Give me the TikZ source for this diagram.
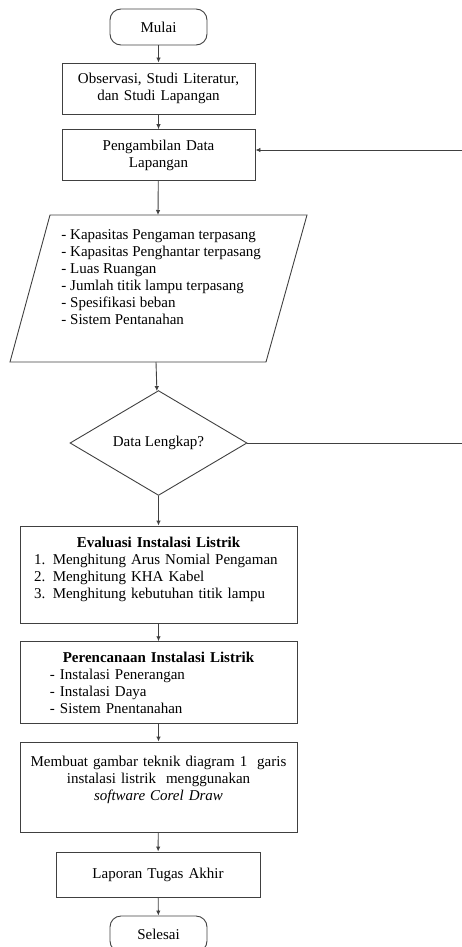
\documentclass[tikz,border=0pt]{standalone}
\usepackage{fontspec}
\setmainfont{Liberation Serif}
\usetikzlibrary{arrows.meta,shapes.geometric}

\begin{document}
\begin{tikzpicture}[x=1pt,y=-1pt,
  font=\fontsize{15}{17}\selectfont, color=black!75, text=black,
  line width=0.9pt, >={Latex[length=5pt,width=4.5pt]},
  terminal/.style={draw, rounded corners=11pt, minimum width=97pt, minimum height=36pt},
  box/.style={draw, inner sep=10pt, align=center},
  decision/.style={draw, diamond, inner sep=0pt, minimum width=177pt, minimum height=88pt}]

\useasboundingbox (0,0) rectangle (462,947);

%start and first steps
\node[terminal] (mulai) at (158.5,27) {Mulai};
\node[box, text width=173pt, minimum height=51pt] (observasi) at (158.5,88.5)
  {Observasi, Studi Literatur,\\ dan Studi Lapangan};
\node[box, text width=173pt, minimum height=44pt] (ambil) at (158.5,155)
  {Pengambilan Data\\ Lapangan};

%data input (parallelogram)
\draw (50,215) -- (307,215) -- (266,362) -- (10,362) -- cycle;
\coordinate (datatop) at (158,215);
\coordinate (databot) at (156,362);
\node[anchor=north west, inner sep=0pt, align=left] (datalist) at (61,229)
  {- Kapasitas Pengaman terpasang\\
   - Kapasitas Penghantar terpasang\\
   - Luas Ruangan\\
   - Jumlah titik lampu terpasang\\
   - Spesifikasi beban\\
   - Sistem Pentanahan};

%check
\node[decision] (cek) at (158.5,443) {Data Lengkap?};

%evaluation and planning
\node[box, text width=257pt, minimum height=97pt, align=left] (evaluasi) at (158.5,574.5)
  {\makebox[\linewidth]{\textbf{Evaluasi Instalasi Listrik}}\\
   \hspace*{4pt}1. Menghitung Arus Nomial Pengaman\\
   \hspace*{4pt}2. Menghitung KHA Kabel\\
   \hspace*{4pt}3. Menghitung kebutuhan titik lampu\\[-4pt]\mbox{}};
\node[box, text width=257pt, minimum height=81pt, align=left] (rencana) at (158.5,682.5)
  {\makebox[\linewidth]{\textbf{Perencanaan Instalasi Listrik}}\\
   \hspace*{20pt}- Instalasi Penerangan\\
   \hspace*{20pt}- Instalasi Daya\\
   \hspace*{20pt}- Sistem Pnentanahan};
\node[box, text width=257pt, minimum height=90pt] (gambar) at (158.5,787)
  {Membuat gambar teknik diagram 1\ \ garis\\
   instalasi listrik\ \ menggunakan\\
   \textit{software Corel Draw}\\ \mbox{}};

%end
\node[box, text width=184pt, minimum height=45pt] (laporan) at (158,874.5) {Laporan Tugas Akhir};
\node[terminal] (selesai) at (158.5,934) {Selesai};

%draw main arrows
\draw[->] (mulai) -- (observasi);
\draw[->] (observasi) -- (ambil);
\draw[->] (ambil) -- (datatop);
\draw[->] (databot) -- (cek);
\draw[->] (cek) -- (evaluasi);
\draw[->] (evaluasi) -- (rencana);
\draw[->] (rencana) -- (gambar);
\draw[->] (gambar) -- (laporan);
\draw[->] (laporan) -- (selesai);

%draw feedback loop (runs past the right edge)
\coordinate (loopa) at (472,443);
\coordinate (loopb) at (472,150);
\draw[->] (cek.east) -- (loopa) -- (loopb) -- (ambil.east |- loopb);

\end{tikzpicture}
\end{document}
